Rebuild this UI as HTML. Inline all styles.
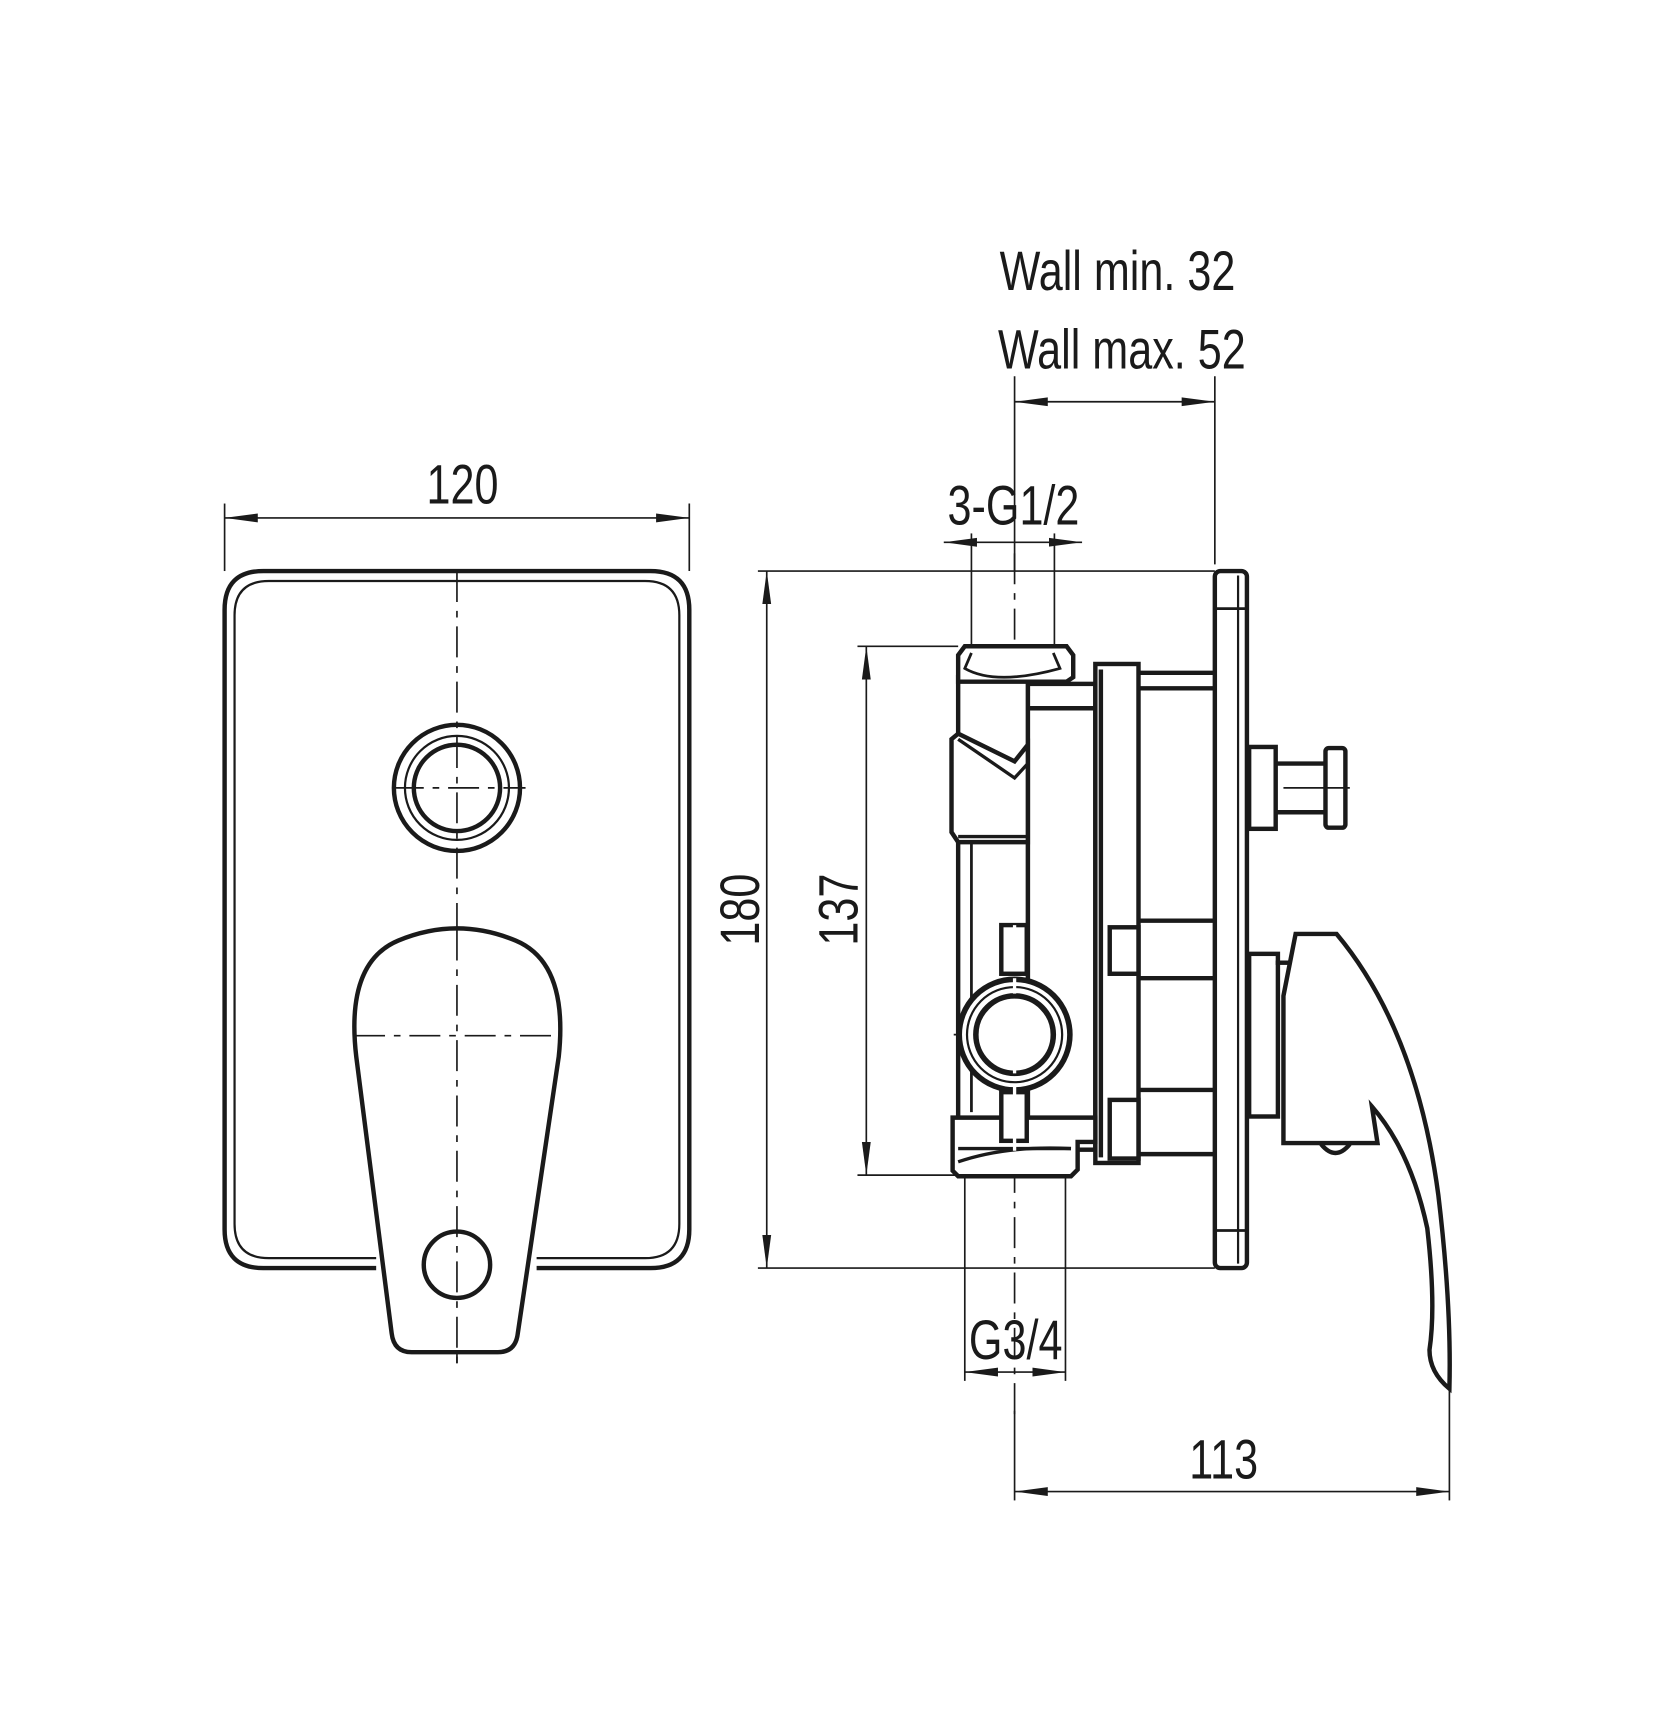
<!DOCTYPE html>
<html><head><style>
html,body{margin:0;padding:0;background:#fff}
svg{display:block}
text{font-family:"Liberation Sans",sans-serif;fill:#1a1a1a}
</style></head><body>
<svg width="1674" height="1734" viewBox="0 0 1513 1567" xmlns="http://www.w3.org/2000/svg">
<defs>
<marker id="a" viewBox="0 0 30 10" refX="30" refY="5" markerWidth="30" markerHeight="10" markerUnits="userSpaceOnUse" orient="auto-start-reverse"><path d="M0,1 L30,5 L0,9 Z" fill="#1a1a1a"/></marker>
</defs>
<g stroke="#1a1a1a" fill="none">
<g stroke-width="1.5">
<line x1="203" y1="455" x2="203" y2="516"/><line x1="623" y1="455" x2="623" y2="516"/>
<line x1="203" y1="468" x2="623" y2="468" marker-start="url(#a)" marker-end="url(#a)"/>
<line x1="413" y1="516" x2="413" y2="1232" stroke-dasharray="28,8,6,8"/>
<line x1="355" y1="712" x2="475" y2="712" stroke-dasharray="28,8,6,8"/>
</g>
<g stroke-width="4">
<path d="M340,1146 H238 Q203,1146 203,1111 V551 Q203,516 238,516 H588 Q623,516 623,551 V1111 Q623,1146 588,1146 H485"/>
</g>
<g stroke-width="2">
<path d="M340,1137 H243 Q212,1137 212,1106 V556 Q212,525 243,525 H583 Q614,525 614,556 V1106 Q614,1137 583,1137 H485"/>
</g>
<circle cx="413" cy="712" r="57" stroke-width="4"/>
<circle cx="413" cy="712" r="47" stroke-width="2"/>
<circle cx="413" cy="712" r="39" stroke-width="4"/>
<path d="M322,955 Q312,870 360,850 Q413,828 466,850 Q514,870 505,955 L468,1205 Q466,1222 450,1222 H372 Q356,1222 354,1205 Z" stroke-width="4" fill="#fff"/>
<line x1="413" y1="840" x2="413" y2="1232" stroke-width="1.5" stroke-dasharray="28,8,6,8"/>
<line x1="320" y1="936" x2="508" y2="936" stroke-width="1.5" stroke-dasharray="28,8,6,8"/>
<circle cx="413" cy="1143" r="30" stroke-width="4"/>

<g stroke-width="1.5">
<line x1="685" y1="516" x2="1098" y2="516"/><line x1="685" y1="1146" x2="1098" y2="1146"/>
<line x1="693" y1="516" x2="693" y2="1146" marker-start="url(#a)" marker-end="url(#a)"/>
<line x1="775" y1="584" x2="866" y2="584"/><line x1="775" y1="1062" x2="866" y2="1062"/>
<line x1="783" y1="584" x2="783" y2="1062" marker-start="url(#a)" marker-end="url(#a)"/>
<line x1="917" y1="340" x2="917" y2="516"/><line x1="1098" y1="340" x2="1098" y2="510"/>
<line x1="917" y1="363" x2="1098" y2="363" marker-start="url(#a)" marker-end="url(#a)"/>
<line x1="878" y1="482" x2="878" y2="584"/><line x1="953" y1="482" x2="953" y2="584"/>
<line x1="853" y1="490" x2="878" y2="490" marker-start="url(#a)"/>
<line x1="953" y1="490" x2="978" y2="490" marker-end="url(#a)"/>
<line x1="878" y1="490" x2="953" y2="490"/>
<line x1="872" y1="1062" x2="872" y2="1248"/><line x1="963" y1="1062" x2="963" y2="1248"/>
<line x1="872" y1="1240" x2="963" y2="1240" marker-start="url(#a)" marker-end="url(#a)"/>
<line x1="917" y1="1275" x2="917" y2="1356"/><line x1="1310" y1="1255" x2="1310" y2="1356"/>
<line x1="917" y1="1348" x2="1310" y2="1348" marker-start="url(#a)" marker-end="url(#a)"/>
<line x1="917" y1="500" x2="917" y2="1285" stroke-dasharray="28,8,6,8"/>
<line x1="862" y1="935" x2="972" y2="935"/>
</g>

<rect x="1098" y="516" width="29" height="630" rx="5" stroke-width="4"/>
<line x1="1098" y1="550" x2="1127" y2="550" stroke-width="2.5"/>
<line x1="1098" y1="1112" x2="1127" y2="1112" stroke-width="2.5"/>
<line x1="1119" y1="520" x2="1119" y2="1142" stroke-width="2"/>

<g stroke-width="4" fill="#fff">
<rect x="929" y="618" width="61" height="421"/>
<line x1="929" y1="640" x2="990" y2="640"/>
<rect x="990" y="600" width="39" height="451"/>
<line x1="995" y1="605" x2="995" y2="1046"/>
<line x1="1029" y1="608" x2="1098" y2="608"/><line x1="1029" y1="622" x2="1098" y2="622"/>
<line x1="1029" y1="832" x2="1098" y2="832"/><line x1="1029" y1="884" x2="1098" y2="884"/>
<line x1="1029" y1="985" x2="1098" y2="985"/><line x1="1029" y1="1043" x2="1098" y2="1043"/>
<rect x="1003" y="838" width="26" height="42"/>
<rect x="1003" y="994" width="26" height="53"/>
<rect x="866" y="612" width="63" height="400"/>
<line x1="878" y1="760" x2="878" y2="1005" stroke-width="2.5"/>
<path d="M872,584 H964 L970,592 V612 L964,616 H866 V592 Z"/>
<path d="M878,590 L872,604 Q900,620 958,604 L952,590" stroke-width="2.5"/>
<path d="M866,663 L860,668 V752 L866,761 H929 V673 L917,688 Z"/>
<path d="M866,668 L917,703 L929,690" stroke-width="3" fill="none"/>
<line x1="866" y1="756" x2="929" y2="756" stroke-width="3"/>
<path d="M861,1010 H990 V1032 H974 V1057 L968,1063 H866 L861,1058 Z"/>
<path d="M866,1050 Q910,1035 968,1038" stroke-width="3" fill="none"/>
<line x1="866" y1="1038" x2="968" y2="1038" stroke-width="3"/>
<rect x="905" y="836" width="23" height="44"/>
<rect x="905" y="987" width="23" height="44"/>
<circle cx="917" cy="935" r="50" stroke-width="5"/>
<circle cx="917" cy="935" r="43" stroke-width="2"/>
<circle cx="917" cy="935" r="35" stroke-width="5"/>
<rect x="1129" y="675" width="24" height="74"/>
<line x1="1153" y1="690" x2="1200" y2="690"/><line x1="1153" y1="734" x2="1200" y2="734"/>
<rect x="1198" y="676" width="18" height="72" rx="3"/>
<rect x="1129" y="862" width="26" height="147"/>
<path d="M1171,844 H1208 Q1280,930 1300,1080 Q1312,1180 1310,1255 Q1292,1240 1292,1220 Q1298,1180 1290,1110 Q1275,1040 1240,1000 L1245,1033 H1160 V900 Z"/>
<path d="M1153,870 L1167,870" />
<path d="M1194,1034 Q1207,1050 1220,1034" fill="none"/>
</g>
<line x1="917" y1="836" x2="917" y2="1040" stroke="#fff" stroke-width="3" stroke-dasharray="14,10"/>
<line x1="1160" y1="712" x2="1220" y2="712" stroke-width="1.5"/>
</g>

<g font-size="50">
<text transform="translate(418,455) scale(0.78,1)" text-anchor="middle">120</text>
<text transform="translate(1010,262) scale(0.78,1)" text-anchor="middle">Wall min. 32</text>
<text transform="translate(1014,333) scale(0.78,1)" text-anchor="middle">Wall max. 52</text>
<text transform="translate(916,474) scale(0.78,1)" text-anchor="middle">3-G1/2</text>
<text transform="translate(918,1228) scale(0.78,1)" text-anchor="middle">G3/4</text>
<text transform="translate(1106,1336) scale(0.78,1)" text-anchor="middle">113</text>
<text transform="translate(686,822) rotate(-90) scale(0.78,1)" text-anchor="middle">180</text>
<text transform="translate(775,822) rotate(-90) scale(0.78,1)" text-anchor="middle">137</text>
</g>
</svg>
</body></html>
